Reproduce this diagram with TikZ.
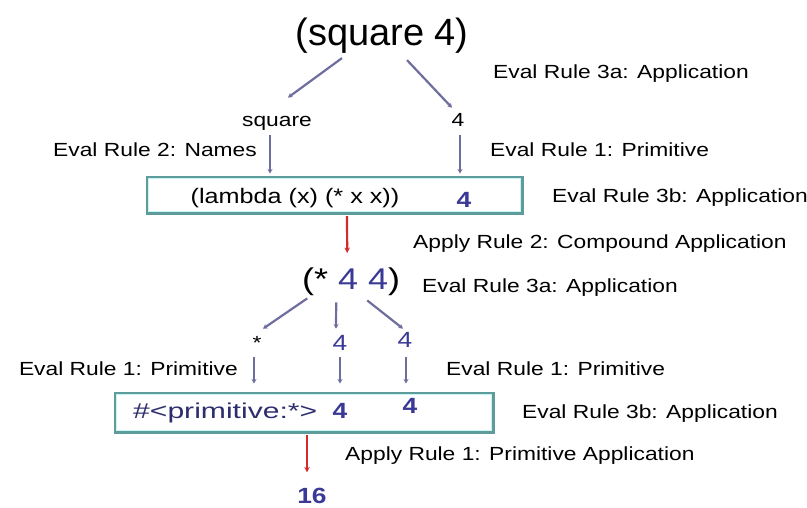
\documentclass[tikz,border=0pt]{standalone}
\usepackage{fontspec}
\setmainfont{Liberation Sans}
\newfontfamily\lblfont[FakeStretch=1.2]{Liberation Sans}
\newfontfamily\widefont[FakeStretch=1.4]{Liberation Sans}
\usetikzlibrary{arrows.meta}

\definecolor{linegray}{HTML}{6E6E9E}
\definecolor{redarrow}{HTML}{D42A2A}
\definecolor{numblue}{HTML}{3A3A96}
\definecolor{primblue}{HTML}{2E2E6E}
\definecolor{boxteal}{HTML}{5E9C9C}
\definecolor{boxlight}{HTML}{C8F4F4}

\tikzset{
  lbl/.style={font=\lblfont\fontsize{19}{19}\selectfont, inner sep=0pt},
  numtxt/.style={font=\lblfont\bfseries\fontsize{22}{22}\selectfont, text=numblue, inner sep=0pt},
  bluetxt/.style={font=\lblfont\fontsize{22}{22}\selectfont, text=numblue, inner sep=0pt},
  evalbox/.style={draw=boxteal, line width=3pt, fill=white, inner sep=0pt},
  innerline/.style={draw=boxlight, line width=1.5pt},
  graylink/.style={draw=linegray, line width=2.2pt, -{Stealth[length=4.5pt,width=5pt]}},
  redlink/.style={draw=redarrow, line width=2.2pt, -{Stealth[length=5.5pt,width=5.5pt]}}
}

\begin{document}
\begin{tikzpicture}[x=1pt,y=-1pt]
\useasboundingbox (0,0) rectangle (807,507);

% top expression and its sub-expressions
\node[anchor=base, font=\fontsize{38}{38}\selectfont, inner sep=0pt] (expr) at (382,45) {(square 4)};
\node[lbl, anchor=base west] (r3a) at (493,78) {Eval Rule 3a: Application};
\node[lbl, anchor=base] (sqname) at (277,126) {square};
\node[lbl, anchor=base] (four1) at (458,126) {4};
\node[lbl, anchor=base east] (r2) at (257,156) {Eval Rule 2: Names};
\node[lbl, anchor=base west] (r1a) at (490,156) {Eval Rule 1: Primitive};

% evaluated operator and operand
\node[evalbox, minimum width=375pt, minimum height=36pt] (box1) at (334.5,195) {};
\draw[innerline] ([shift={(3,3)}]box1.north west) rectangle ([shift={(-3,-3)}]box1.south east);
\node[anchor=base, font=\lblfont\fontsize{21}{21}\selectfont, inner sep=0pt] (lam) at (295,203) {(lambda (x) (* x x))};
\node[numtxt, anchor=base] (lamarg) at (464,207) {4};
\node[lbl, anchor=base west] (r3b1) at (552,202) {Eval Rule 3b: Application};
\node[lbl, anchor=base west] (ap2) at (413,248) {Apply Rule 2: Compound Application};

% body after substitution
\node[anchor=base west, font=\lblfont\fontsize{30}{30}\selectfont, inner sep=0pt] (mul) at (302,289) {(* \textcolor{numblue}{4 4})};
\node[lbl, anchor=base west] (r3a2) at (422,292) {Eval Rule 3a: Application};
\node[lbl, anchor=base] (star) at (257,349) {*};
\node[bluetxt, anchor=base] (fourA) at (340,350) {4};
\node[bluetxt, anchor=base] (fourB) at (405,347) {4};
\node[lbl, anchor=base east] (r1b) at (238,375) {Eval Rule 1: Primitive};
\node[lbl, anchor=base west] (r1c) at (446,375) {Eval Rule 1: Primitive};

% primitive application
\node[evalbox, minimum width=378pt, minimum height=39pt] (box2) at (304,412.5) {};
\draw[innerline] ([shift={(3,3)}]box2.north west) rectangle ([shift={(-3,-3)}]box2.south east);
\node[anchor=base west, font=\widefont\fontsize{21.5}{21.5}\selectfont, text=primblue, inner sep=0pt] (prim) at (133,418) {\#<primitive:*>};
\node[numtxt, anchor=base] (pa) at (340,418) {4};
\node[numtxt, anchor=base] (pb) at (410,413) {4};
\node[lbl, anchor=base west] (r3b2) at (522,418) {Eval Rule 3b: Application};
\node[lbl, anchor=base west] (ap1) at (345,460) {Apply Rule 1: Primitive Application};
\node[numtxt, anchor=base] (res) at (312,503) {16};

% connectors
\draw[graylink] ([shift={(-40,5)}]expr.south) -- ([shift={(11,-18)}]sqname.north);
\draw[graylink] ([shift={(25,7)}]expr.south) -- ([shift={(-6,-5)}]four1.north);
\draw[graylink] ([shift={(-7,5)}]sqname.south) -- ([shift={(-64.5,-2)}]box1.north);
\draw[graylink] ([shift={(2,9)}]four1.south) -- ([shift={(125.5,-2)}]box1.north);
\draw[redlink] ([shift={(12.5,1.5)}]box1.south) -- ([shift={(-4,-14)}]mul.north);
\draw[graylink] ([shift={(-44,3)}]mul.south) -- ([shift={(6,-7)}]star.north);
\draw[graylink] ([shift={(-15,7)}]mul.south) -- ([shift={(-4,-6)}]fourA.north);
\draw[graylink] ([shift={(16,5)}]mul.south) -- ([shift={(-2,-3)}]fourB.north);
\draw[graylink] ([shift={(-3,8)}]star.south) -- ([shift={(-50,-8)}]box2.north);
\draw[graylink] ([shift={(0,7)}]fourA.south) -- ([shift={(36,-8)}]box2.north);
\draw[graylink] ([shift={(1,10)}]fourB.south) -- ([shift={(102,-8)}]box2.north);
\draw[redlink] ([shift={(3,1.5)}]box2.south) -- ([shift={(-5,-15)}]res.north);
\end{tikzpicture}
\end{document}
